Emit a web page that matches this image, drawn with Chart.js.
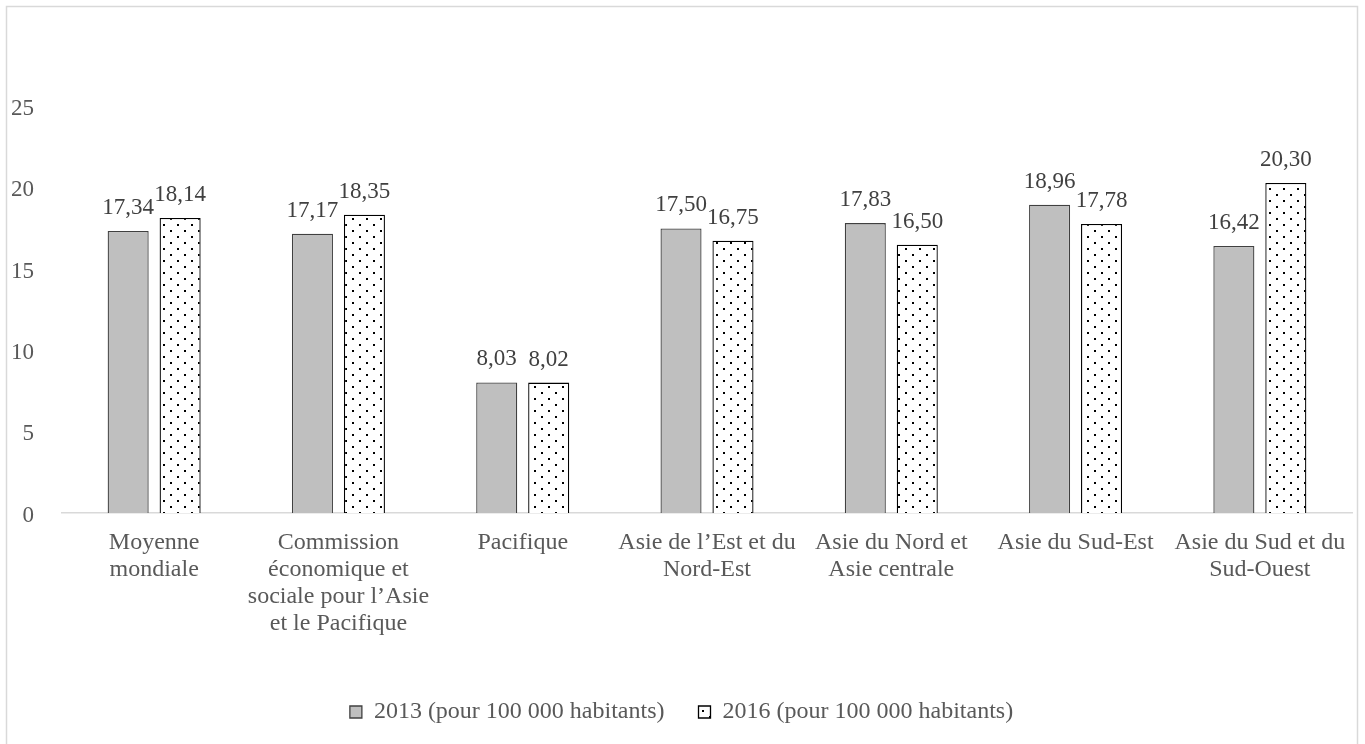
<!DOCTYPE html>
<html>
<head>
<meta charset="utf-8">
<style>
  html, body { margin: 0; padding: 0; background: #ffffff; }
  #wrap { position: relative; width: 1365px; height: 744px; }
</style>
<script src="https://cdn.jsdelivr.net/npm/chart.js@4.4.1/dist/chart.umd.min.js"></script>
</head>
<body>
<div id="wrap"><canvas id="c" width="1365" height="744"></canvas></div>
<script>
const categories = [
  ["Moyenne", "mondiale"],
  ["Commission", "économique et", "sociale pour l’Asie", "et le Pacifique"],
  ["Pacifique"],
  ["Asie de l’Est et du", "Nord-Est"],
  ["Asie du Nord et", "Asie centrale"],
  ["Asie du Sud-Est"],
  ["Asie du Sud et du", "Sud-Ouest"]
];
const values2013 = [17.34, 17.17, 8.03, 17.50, 17.83, 18.96, 16.42];
const values2016 = [18.14, 18.35, 8.02, 16.75, 16.50, 17.78, 20.30];
const seriesNames = ["2013 (pour 100 000 habitants)", "2016 (pour 100 000 habitants)"];
const yMin = 0, yMax = 25, yStep = 5;

const FONT = "'Liberation Serif', 'Times New Roman', serif";

function makeDots() {
  const t = document.createElement('canvas');
  t.width = 14; t.height = 12;
  const g = t.getContext('2d');
  g.fillStyle = '#ffffff';
  g.fillRect(0, 0, 14, 12);
  g.fillStyle = '#000000';
  g.fillRect(2, 2, 2, 2);
  g.fillRect(9, 8, 2, 2);
  return g.createPattern(t, 'repeat');
}
const ctx = document.getElementById('c').getContext('2d');
const dots = makeDots();

const frame = {
  id: 'frame',
  beforeDraw(chart) {
    const g = chart.ctx;
    g.save();
    g.fillStyle = '#ffffff';
    g.fillRect(0, 0, chart.width, chart.height);
    g.strokeStyle = '#d9d9d9';
    g.lineWidth = 1.5;
    g.strokeRect(6.5, 6.5, 1351, 800);
    g.restore();
  }
};

const valueLabels = {
  id: 'valueLabels',
  afterDatasetsDraw(chart) {
    const g = chart.ctx;
    g.save();
    g.font = "23px " + FONT;
    g.fillStyle = '#404040';
    g.textAlign = 'center';
    g.textBaseline = 'alphabetic';
    chart.data.datasets.forEach((ds, di) => {
      const meta = chart.getDatasetMeta(di);
      meta.data.forEach((el, i) => {
        const v = ds.data[i];
        g.fillText(v.toFixed(2).replace('.', ','), el.x, el.y - 17);
      });
    });
    g.restore();
  }
};

new Chart(ctx, {
  type: 'bar',
  data: {
    labels: categories,
    datasets: [
      {
        label: seriesNames[0],
        data: values2013,
        backgroundColor: '#bfbfbf',
        borderColor: '#404040',
        borderWidth: 1.3,
        barPercentage: 0.79,
        categoryPercentage: 0.564
      },
      {
        label: seriesNames[1],
        data: values2016,
        backgroundColor: dots,
        borderColor: '#000000',
        borderWidth: 1.3,
        barPercentage: 0.79,
        categoryPercentage: 0.564
      }
    ]
  },
  options: {
    responsive: false,
    animation: false,
    events: [],
    layout: { padding: { left: 11, right: 13, top: 106.5, bottom: 10 } },
    plugins: {
      tooltip: { enabled: false },
      legend: {
        position: 'bottom',
        maxHeight: 70,
        labels: {
          boxWidth: 12,
          boxHeight: 12,
          padding: 34,
          color: '#595959',
          font: { family: FONT, size: 24 }
        }
      }
    },
    scales: {
      x: {
        grid: { display: true, drawOnChartArea: false, drawTicks: false },
        border: { display: true, color: '#d9d9d9', width: 1.5 },
        ticks: {
          color: '#595959',
          font: { family: FONT, size: 24, lineHeight: '27px' },
          padding: 16,
          maxRotation: 0,
          minRotation: 0,
          autoSkip: false
        },
        afterFit(scale) { scale.height = 153; }
      },
      y: {
        min: yMin,
        max: yMax,
        grid: { display: false, drawTicks: false },
        border: { display: false },
        ticks: {
          stepSize: yStep,
          color: '#595959',
          font: { family: FONT, size: 23 },
          padding: 28,
          labelOffset: 2.5
        },
        afterFit(scale) { scale.width = 51; }
      }
    }
  },
  plugins: [frame, valueLabels]
});
</script>
</body>
</html>
